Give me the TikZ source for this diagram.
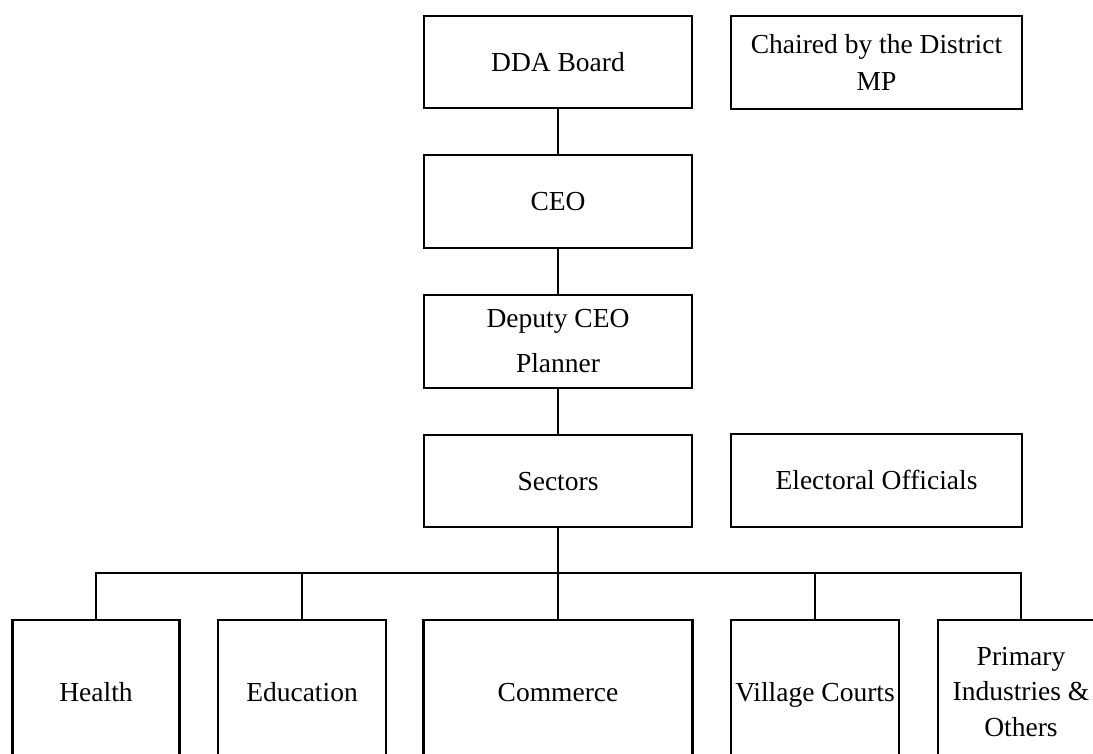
\documentclass[tikz,border=0pt]{standalone}
\usepackage{fontspec}
\setmainfont{Liberation Serif}
\begin{document}
\begin{tikzpicture}[x=1pt,y=-1pt,
  box/.style={draw, line width=2.2pt, rectangle, inner sep=0pt, align=center,
    font=\fontsize{27.5}{37}\selectfont},
  one/.style={text height=23.4pt, text depth=5.2pt},
  conn/.style={line width=2.2pt}]
\useasboundingbox (0,0) rectangle (1093,753);
\clip (0,0) rectangle (1093,753);
% top column
\node[box, one, minimum width=268pt, minimum height=92pt] (dda) at (558,62) {DDA Board};
\node[box, minimum width=291pt, minimum height=93pt] (chair) at (876.5,62.5) {Chaired by the District\\MP};
\node[box, one, minimum width=268pt, minimum height=93pt] (ceo) at (558,201.5) {CEO};
\node[box, minimum width=268pt, minimum height=93pt, font=\fontsize{27.5}{45}\selectfont] (dep) at (558,341.5) {Deputy CEO\\Planner};
\node[box, one, minimum width=268pt, minimum height=92pt] (sec) at (558,481) {Sectors};
\node[box, one, minimum width=291pt, minimum height=93pt] (elec) at (876.5,480.5) {Electoral Officials};
% children
\node[box, one, minimum width=167pt, minimum height=144pt] (hea) at (96,692) {Health};
\node[box, one, minimum width=168pt, minimum height=144pt] (edu) at (302,692) {Education};
\node[box, one, minimum width=269pt, minimum height=144pt] (com) at (558,692) {Commerce};
\node[box, one, minimum width=168pt, minimum height=144pt] (vil) at (815,692) {Village Courts};
\node[box, minimum width=166pt, minimum height=144pt, font=\fontsize{27.5}{35.5}\selectfont] (pri) at (1021,692) {Primary\\Industries \&\\Others};
% connectors
\coordinate (bar) at (558,573);
\draw[conn] (dda) -- (ceo);
\draw[conn] (ceo) -- (dep);
\draw[conn] (dep) -- (sec);
\draw[conn] (sec.south) -- (com.north);
\draw[conn] (hea.north) |- (bar) -| (pri.north);
\draw[conn] (edu.north) -- (edu.north |- bar);
\draw[conn] (vil.north) -- (vil.north |- bar);
\end{tikzpicture}
\end{document}
